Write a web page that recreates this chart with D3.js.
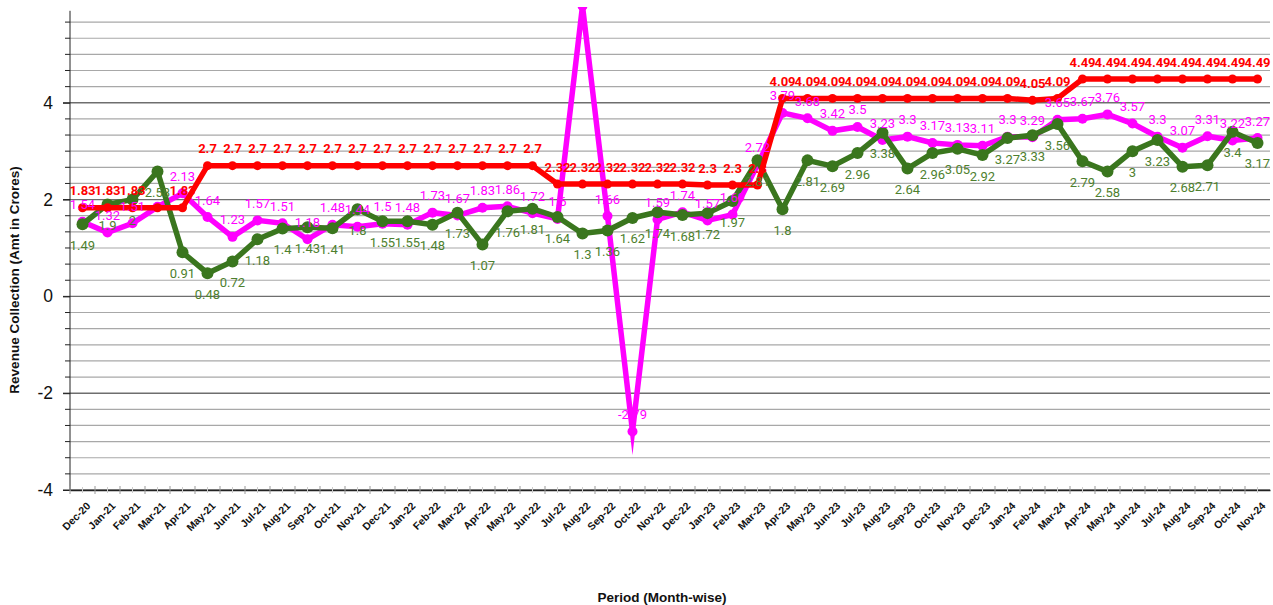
<!DOCTYPE html>
<html><head><meta charset="utf-8">
<script src="https://cdn.jsdelivr.net/npm/d3@7"></script>
<style>body{margin:0;background:#fff}svg{display:block}</style>
</head><body>
<svg id="c" width="1273" height="605"></svg>
<script>
const months = ["Dec-20","Jan-21","Feb-21","Mar-21","Apr-21","May-21","Jun-21","Jul-21","Aug-21","Sep-21","Oct-21","Nov-21",
"Dec-21","Jan-22","Feb-22","Mar-22","Apr-22","May-22","Jun-22","Jul-22","Aug-22","Sep-22","Oct-22","Nov-22",
"Dec-22","Jan-23","Feb-23","Mar-23","Apr-23","May-23","Jun-23","Jul-23","Aug-23","Sep-23","Oct-23","Nov-23",
"Dec-23","Jan-24","Feb-24","Mar-24","Apr-24","May-24","Jun-24","Jul-24","Aug-24","Sep-24","Oct-24","Nov-24"];
const redValues = [1.83,1.83,1.83,1.83,1.83,2.7,2.7,2.7,2.7,2.7,2.7,2.7,
2.7,2.7,2.7,2.7,2.7,2.7,2.7,2.32,2.32,2.32,2.32,2.32,
2.32,2.3,2.3,2.3,4.09,4.09,4.09,4.09,4.09,4.09,4.09,4.09,
4.09,4.09,4.05,4.09,4.49,4.49,4.49,4.49,4.49,4.49,4.49,4.49];
const magentaValues = [1.54,1.32,1.51,1.85,2.13,1.64,1.23,1.57,1.51,1.18,1.48,1.44,
1.5,1.48,1.73,1.67,1.83,1.86,1.72,1.6,6.0,1.66,-2.79,1.59,
1.74,1.57,1.69,2.72,3.79,3.68,3.42,3.5,3.23,3.3,3.17,3.13,
3.11,3.3,3.29,3.65,3.67,3.76,3.57,3.3,3.07,3.31,3.22,3.27];
const greenValues = [1.49,1.9,2,2.58,0.91,0.48,0.72,1.18,1.4,1.43,1.41,1.8,
1.55,1.55,1.48,1.73,1.07,1.76,1.81,1.64,1.3,1.36,1.62,1.74,
1.68,1.72,1.97,2.81,1.8,2.81,2.69,2.96,3.38,2.64,2.96,3.05,
2.92,3.27,3.33,3.56,2.79,2.58,3,3.23,2.68,2.71,3.4,3.17];
const yTicks = [-4,-2,0,2,4];
const hiddenRedLabels = ["Mar-21"];
const hiddenMagentaLabels = ["Mar-21","Aug-22"];

const svg = d3.select("#c");
const L = 70, R = 1270, T = 10.8, B = 490;
const x = d3.scaleBand().domain(months).range([L, R]).padding(0);
const cx = m => x(m) + x.bandwidth()/2;
const y = d3.scaleLinear().domain([-4, 5.9]).range([B, T]);

// gridlines every 1/3
const grid = d3.range(-12, 18).map(i => i/3).filter(v => v > -4.01 && v < 5.9);
const gg = svg.append("g");
grid.forEach(v => {
  const major = Math.abs(v/2 - Math.round(v/2)) < 1e-6;
  gg.append("line").attr("x1", L).attr("x2", R).attr("y1", y(v)).attr("y2", y(v))
    .attr("stroke", major ? "#6e6e6e" : "#a8a8a8").attr("stroke-width", major ? 1.4 : 1.2);
  gg.append("line").attr("x1", major ? L-7 : L-5).attr("x2", L).attr("y1", y(v)).attr("y2", y(v))
    .attr("stroke", "#222").attr("stroke-width", 1);
});

// y axis
const yAxis = svg.append("g").attr("transform", `translate(${L},0)`)
  .call(d3.axisLeft(y).tickValues(yTicks).tickFormat(d => String(d)).tickSize(7).tickPadding(10));
yAxis.select(".domain").attr("stroke", "#222").attr("d", `M0,${T}V${B}`);
yAxis.selectAll("text").attr("font-family", "Liberation Sans, Arial, sans-serif").attr("font-size", 17.5).attr("fill", "#111");
yAxis.selectAll(".tick line").attr("stroke", "#222");

// x axis
const xAxis = svg.append("g").attr("transform", `translate(0,${B})`)
  .call(d3.axisBottom(x).tickSize(0).tickFormat(""));
xAxis.select(".domain").attr("stroke", "#222").attr("stroke-width", 1.5);
months.forEach(m => {
  xAxis.append("line").attr("x1", x(m)).attr("x2", x(m)).attr("y1", -4).attr("y2", 4).attr("stroke", "#999");
  xAxis.append("line").attr("x1", cx(m)).attr("x2", cx(m)).attr("y1", -3).attr("y2", 3).attr("stroke", "#ccc");
});
xAxis.selectAll(".xl").data(months).enter().append("text")
  .attr("class", "xl")
  .attr("transform", d => `translate(${cx(d)+6},14) rotate(-45)`)
  .attr("text-anchor", "end").attr("dy", "0.35em")
  .attr("font-family", "Liberation Sans, Arial, sans-serif").attr("font-weight", "bold")
  .attr("font-size", 10.5).attr("fill", "#111").text(d => d);

// titles
svg.append("text").attr("transform", "translate(19,280) rotate(-90)").attr("text-anchor", "middle")
  .attr("font-family", "Liberation Sans, Arial, sans-serif").attr("font-weight", "bold").attr("font-size", 13.5)
  .attr("fill", "#111").text("Revenue Collection (Amt in Crores)");
svg.append("text").attr("x", 662).attr("y", 602).attr("text-anchor", "middle")
  .attr("font-family", "Liberation Sans, Arial, sans-serif").attr("font-weight", "bold").attr("font-size", 13.5)
  .attr("fill", "#111").text("Period (Month-wise)");

// clip
svg.append("clipPath").attr("id", "clip").append("rect").attr("x", L).attr("y", 7).attr("width", R-L+5).attr("height", 500);
const plot = svg.append("g").attr("clip-path", "url(#clip)");

const series = [
  {vals: magentaValues, color: "#ff00ff", lw: 5.5, r: 5},
  {vals: greenValues, color: "#3a761e", lw: 5.5, r: 6},
  {vals: redValues, color: "#ff0000", lw: 5.5, r: 4.5}
];
const line = d3.line().x((d,i) => cx(months[i])).y(d => y(d));
series.forEach(s => {
  plot.append("path").datum(s.vals).attr("d", line).attr("fill", "none")
    .attr("stroke", s.color).attr("stroke-width", s.lw).attr("stroke-linejoin", "miter").attr("stroke-miterlimit", 10);
  plot.selectAll(null).data(s.vals).enter().append("circle")
    .attr("cx", (d,i) => cx(months[i])).attr("cy", d => y(d)).attr("r", s.r).attr("fill", s.color);
});

// labels
const lab = svg.append("g").attr("font-family", "Roboto, 'Noto Sans', sans-serif").attr("font-size", 13)
  .attr("text-anchor", "middle").attr("dominant-baseline", "central");
greenValues.forEach((d,i) => {
  lab.append("text").attr("x", cx(months[i])).attr("y", y(d) + 21).attr("fill", "#4e7f2e").text(d);
});
magentaValues.forEach((d,i) => {
  if (hiddenMagentaLabels.includes(months[i])) return;
  lab.append("text").attr("x", cx(months[i])).attr("y", y(d) - 17).attr("fill", "#ff00ff").text(d);
});
redValues.forEach((d,i) => {
  if (hiddenRedLabels.includes(months[i])) return;
  lab.append("text").attr("x", cx(months[i])).attr("y", y(d) - 17).attr("fill", "#ff0000")
    .attr("font-weight", "bold").text(d);
});
</script>
</body></html>
